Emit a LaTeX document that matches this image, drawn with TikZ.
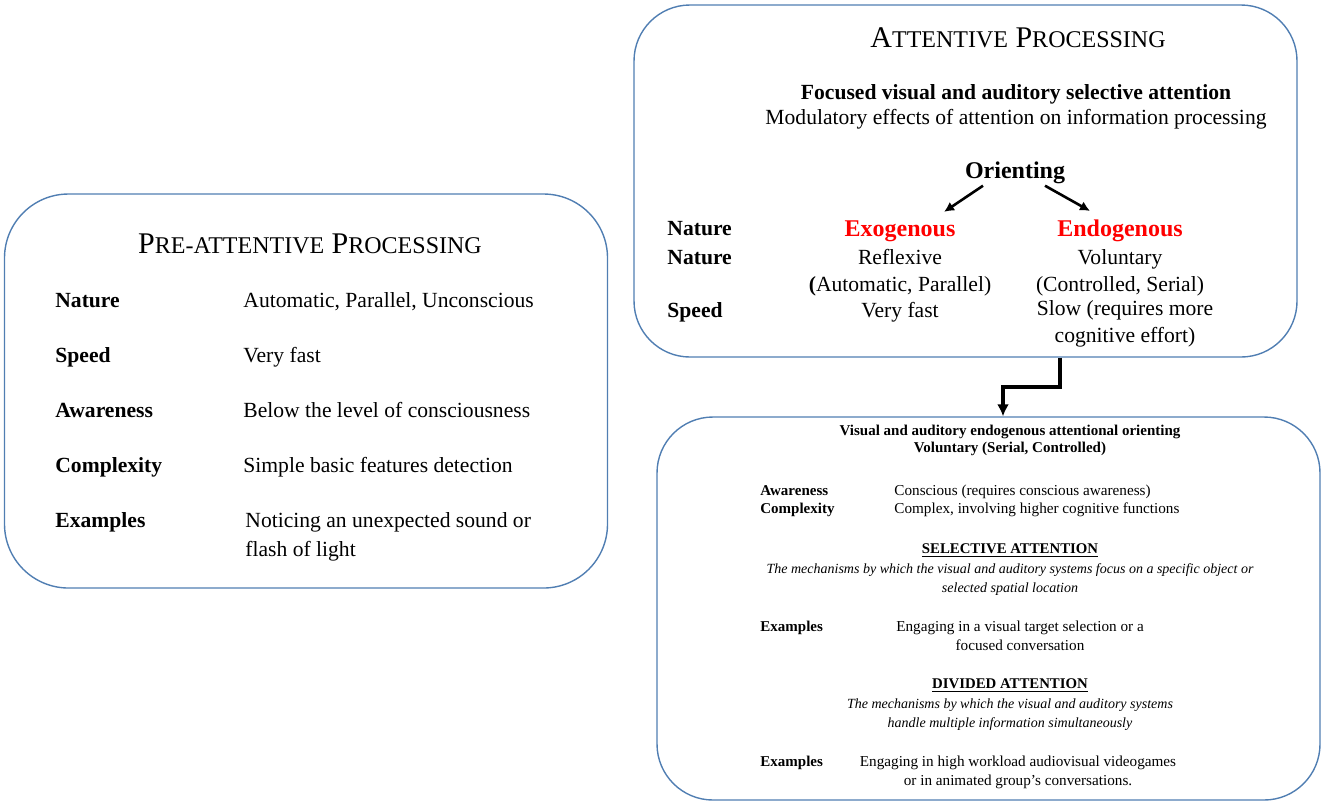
\documentclass[tikz,border=0pt]{standalone}
\usepackage{fontspec}
\setmainfont{Liberation Serif}
\usetikzlibrary{positioning}
\usetikzlibrary{arrows.meta}
\definecolor{boxblue}{RGB}{80,126,178}
\definecolor{exored}{RGB}{255,0,0}
\newcommand{\smc}[1]{{\fontsize{12}{14}\selectfont #1}}
\tikzstyle{procbox}=[draw=boxblue,line width=0.7pt,rounded corners=30pt,inner sep=0pt]
\tikzstyle{boxtitle}=[font=\fontsize{15}{18}\selectfont,anchor=base,inner sep=0pt]
\tikzstyle{rowlabel}=[font=\fontsize{10.8}{14.5}\selectfont\bfseries,anchor=base west,inner sep=0pt]
\tikzstyle{rowvalue}=[font=\fontsize{10.8}{14.5}\selectfont,anchor=base west,align=left,inner sep=0pt]
\tikzstyle{colvalue}=[font=\fontsize{10.8}{13.5}\selectfont,anchor=base,align=center,inner sep=0pt]
\tikzstyle{branch}=[font=\fontsize{12}{14}\selectfont\bfseries,text=exored,anchor=base,inner sep=1pt]
\tikzstyle{smalllabel}=[font=\fontsize{7.5}{9.5}\selectfont\bfseries,anchor=base west,inner sep=0pt]
\tikzstyle{smallvalue}=[font=\fontsize{7.6}{9.5}\selectfont,anchor=base,align=center,inner sep=0pt]
\tikzstyle{smallhead}=[font=\fontsize{7.4}{9.5}\selectfont\bfseries,anchor=base,inner sep=0pt]
\tikzstyle{smallnote}=[font=\fontsize{7}{9.5}\selectfont\itshape,anchor=base,align=center,inner sep=0pt]
\tikzstyle{orientedge}=[draw,line width=1.3pt,-{Latex[length=5pt,width=5pt]}]
\tikzstyle{elbowedge}=[draw,line width=2pt,-{Latex[length=6pt,width=6pt]}]

\begin{document}
\begin{tikzpicture}[x=0.5pt,y=-0.5pt]
\useasboundingbox (0,0) rectangle (1325,805);

    % First we draw the three boxes
    \node[procbox,minimum width=301.5pt,minimum height=197pt,rounded corners=32pt] (pre) at (306,391) {};
    \node[procbox,minimum width=331.5pt,minimum height=176pt,rounded corners=28pt] (att) at (965.5,181) {};
    \node[procbox,minimum width=331.5pt,minimum height=191.5pt,rounded corners=28pt] (vol) at (988.5,608.5) {};

    % Pre-attentive box (multi-line texts sit on their last line)
    \node[boxtitle] (pretitle) at (310,253) {P\smc{RE-ATTENTIVE} P\smc{ROCESSING}};
    \foreach \y/\name/\label/\val in {307/nat/Nature/{Automatic, Parallel, Unconscious}, 362/spd/Speed/{Very fast}, 417/awa/Awareness/{Below the level of consciousness}, 472/cpx/Complexity/{Simple basic features detection}}
    {
        \node[rowlabel] (pre\name) at (55,\y) {\label};
        \node[rowvalue] (pre\name-v) at (243,\y) {\val};
    }
    \node[rowlabel] (preexa) at (55,527) {Examples};
    \node[rowvalue] (preexa-v) at (245,556) {Noticing an unexpected sound or\\flash of light};

    % Attentive box
    \node[boxtitle] (atttitle) at (1018,47) {A\smc{TTENTIVE} P\smc{ROCESSING}};
    \node[rowlabel,anchor=base] (focus) at (1016,99) {Focused visual and auditory selective attention};
    \node[rowvalue,anchor=base] (modul) at (1016,124) {Modulatory effects of attention on information processing};
    \node[branch,text=black] (orient) at (1015,178) {Orienting};
    \node[branch] (exo) at (900,236) {Exogenous};
    \node[branch] (endo) at (1120,236) {Endogenous};
    \foreach \y/\name/\label in {235/nat1/Nature, 264/nat2/Nature, 317/spd/Speed}
        \node[rowlabel] (att\name) at (667,\y) {\label};
    \foreach \pos/\name/\val in {{(900,291)/exonat/{Reflexive\\{\bfseries(}Automatic, Parallel)}}, {(1120,291)/endonat/{Voluntary\\(Controlled, Serial)}}, {(900,317)/exospd/{Very fast}}, {(1125,342)/endospd/{Slow (requires more\\cognitive effort)}}}
        \node[colvalue] (\name) at \pos {\val};

    % Connect orienting with its two branches
    \path[orientedge] ([xshift=-16pt]orient.south) -- ([xshift=22pt,yshift=3pt]exo.north);
    \path[orientedge] ([xshift=15pt]orient.south) -- ([xshift=-15pt,yshift=3pt]endo.north);

    % Elbow connector down to the voluntary box
    \path[elbowedge] ([xshift=47.25pt]att.south) -- ++(0,29) -| ([xshift=7.25pt]vol.north);

    % Voluntary box
    \node[smalllabel,anchor=base] (voltitle) at (1010,435) {Visual and auditory endogenous attentional orienting};
    \node[smalllabel,anchor=base] (volsub) at (1010,452) {Voluntary (Serial, Controlled)};
    \foreach \y/\name/\label/\val in {495/awa/Awareness/{Conscious (requires conscious awareness)}, 513/cpx/Complexity/{Complex, involving higher cognitive functions}}
    {
        \node[smalllabel] (vol\name) at (760,\y) {\label};
        \node[smallvalue,anchor=base west] (vol\name-v) at (894,\y) {\val};
    }
    \node[smallhead] (sel) at (1010,553) {\underline{SELECTIVE ATTENTION}};
    \node[smallnote] (selnote) at (1010,592) {The mechanisms by which the visual and auditory systems focus on a specific object or\\selected spatial location};
    \node[smalllabel] (volexa1) at (760,631) {Examples};
    \node[smallvalue] (volexa1-v) at (1020,650) {Engaging in a visual target selection or a\\focused conversation};
    \node[smallhead] (div) at (1010,688) {\underline{DIVIDED ATTENTION}};
    \node[smallnote] (divnote) at (1010,727) {The mechanisms by which the visual and auditory systems\\handle multiple information simultaneously};
    \node[smalllabel] (volexa2) at (760,766) {Examples};
    \node[smallvalue] (volexa2-v) at (1018,785) {Engaging in high workload audiovisual videogames\\or in animated group's conversations.};

\end{tikzpicture}
\end{document}
